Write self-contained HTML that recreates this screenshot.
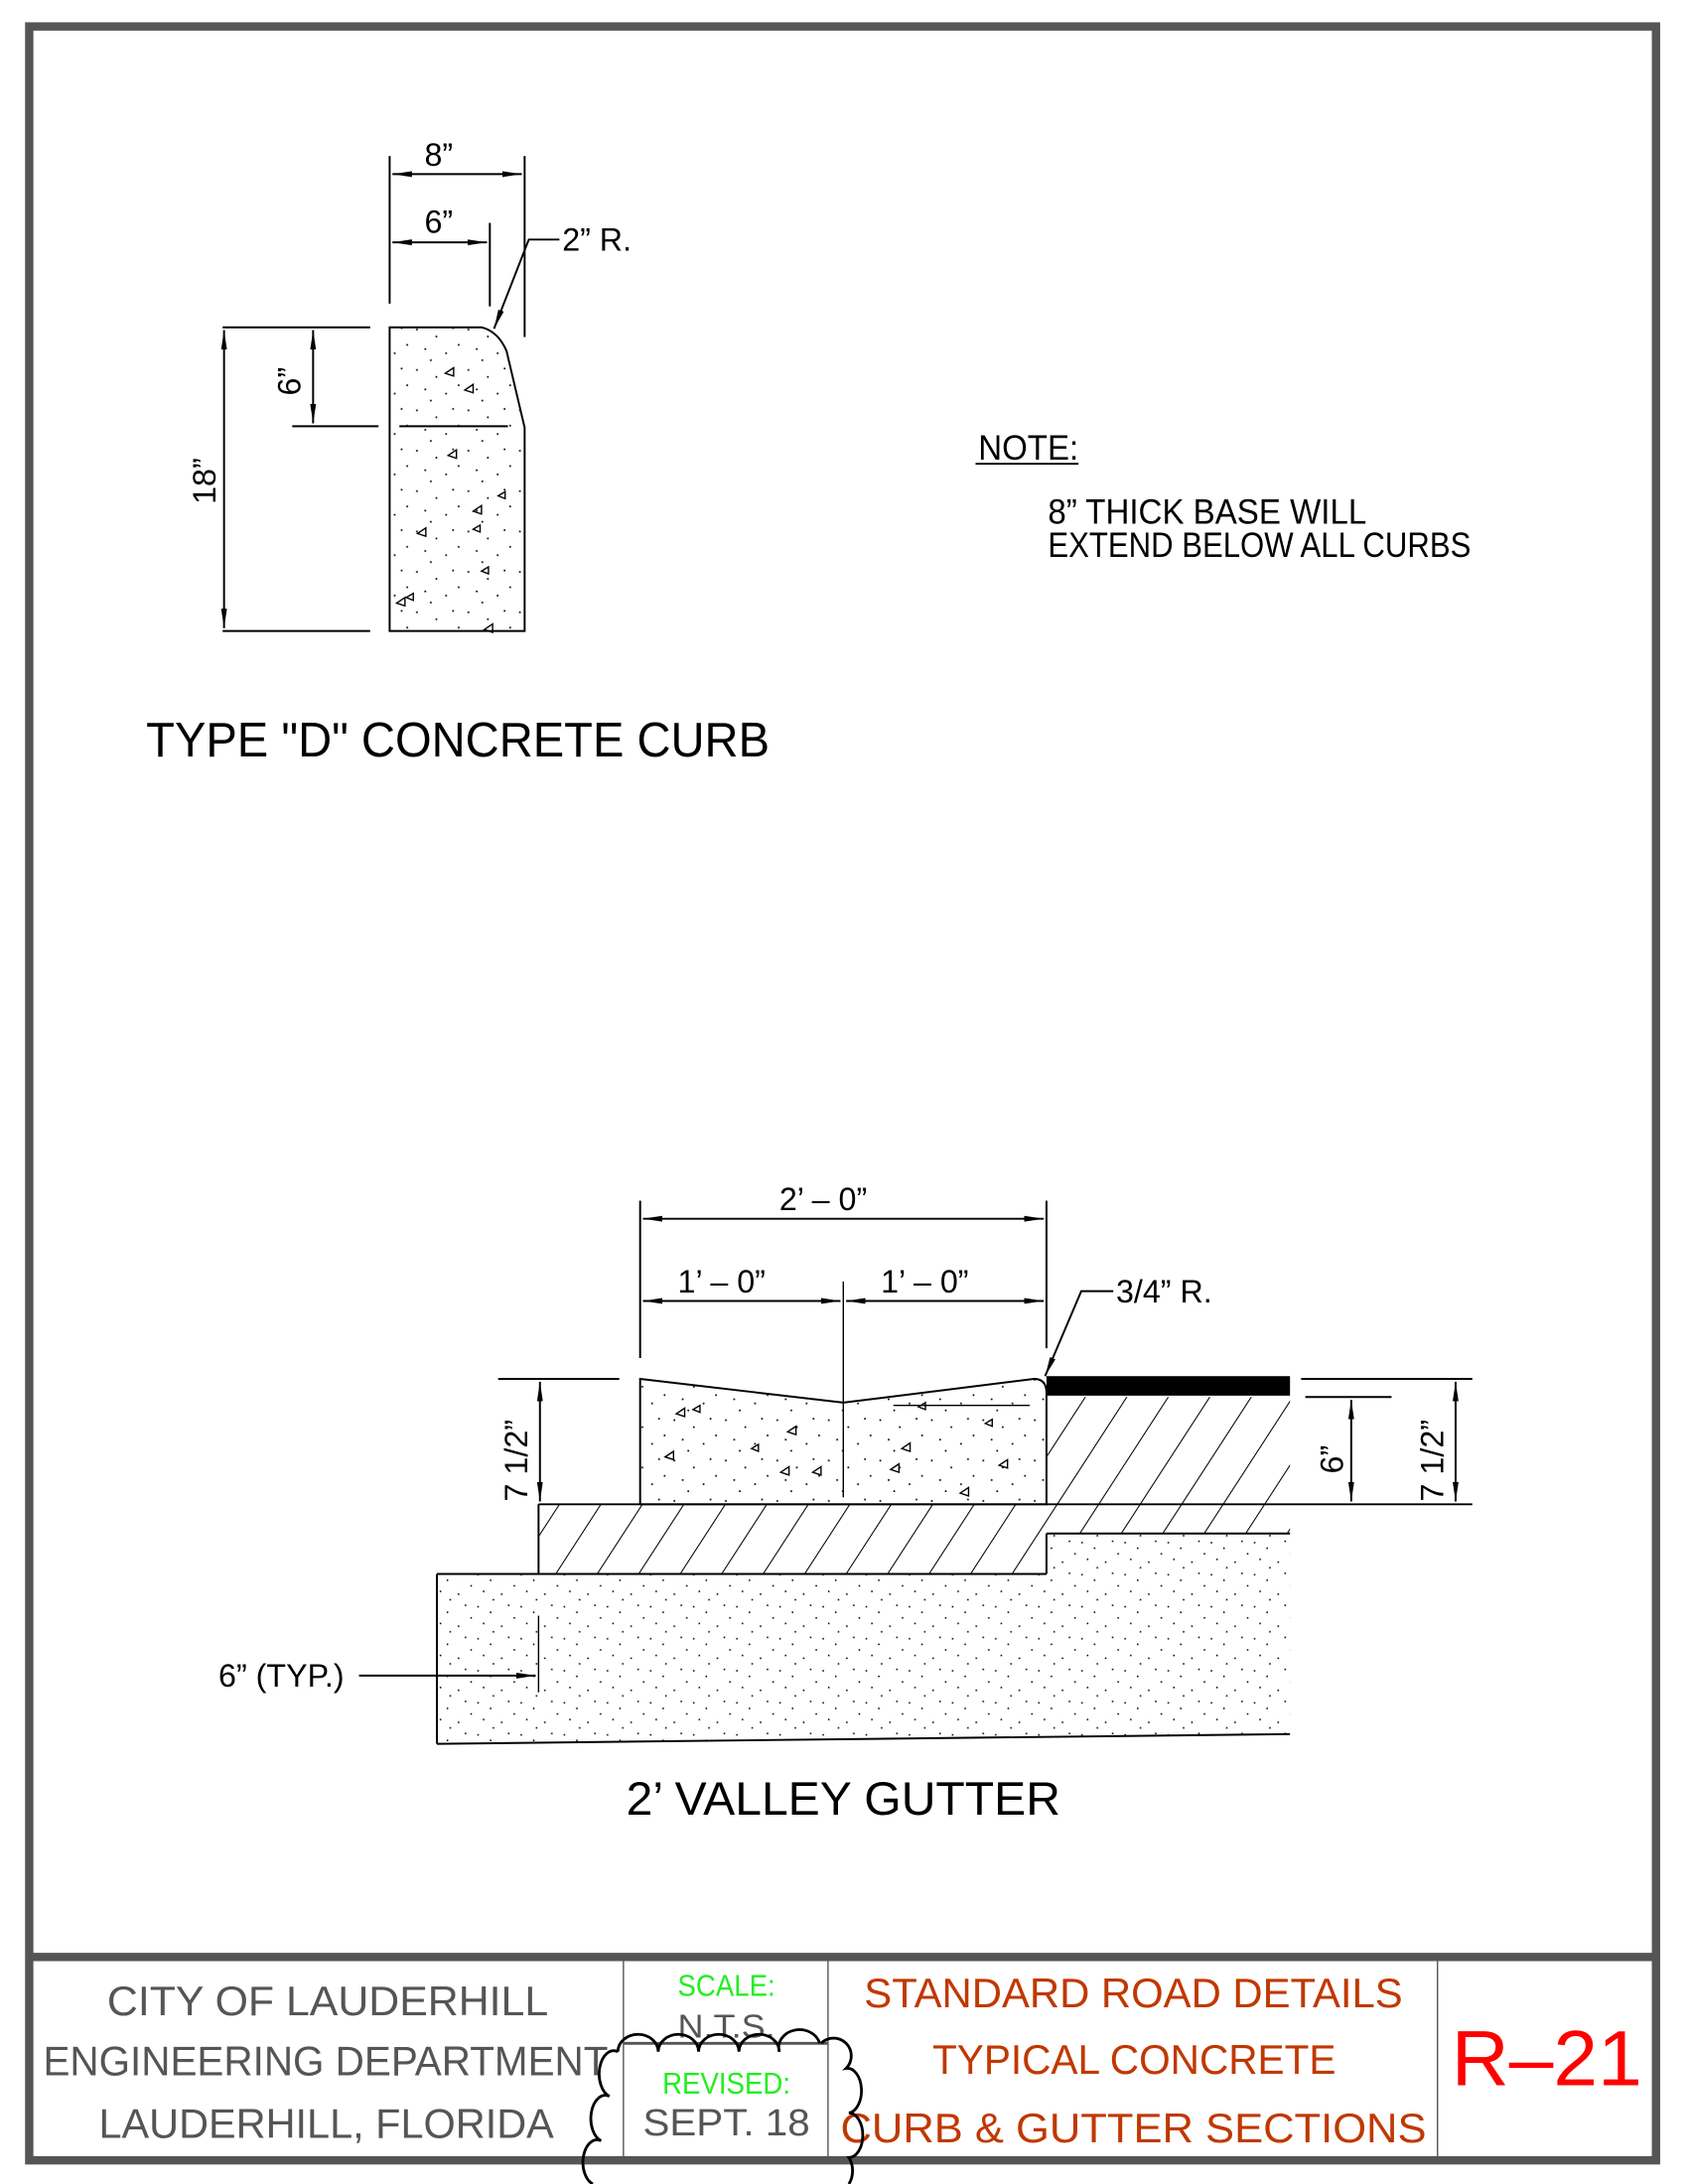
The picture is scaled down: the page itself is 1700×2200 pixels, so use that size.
<!DOCTYPE html>
<html><head><meta charset="utf-8"><style>
html,body{margin:0;padding:0;background:#fff;}
svg{display:block;}
text{font-family:"Liberation Sans",sans-serif;}
</style></head><body>
<svg width="1700" height="2200" viewBox="0 0 1213 1568" preserveAspectRatio="none" xmlns="http://www.w3.org/2000/svg">
<defs>
<marker id="a" viewBox="0 0 20 6" refX="20" refY="3" markerWidth="14" markerHeight="4.2" markerUnits="userSpaceOnUse" orient="auto-start-reverse"><path d="M0,0 L20,3 L0,6z" fill="#000"/></marker>
<pattern id="dots" width="37" height="29" patternUnits="userSpaceOnUse">
<rect x="3" y="4" width="1.2" height="1.2" fill="#000"/><rect x="17" y="9" width="1.2" height="1.2" fill="#000"/><rect x="29" y="3" width="1.2" height="1.2" fill="#000"/><rect x="9" y="18" width="1.2" height="1.2" fill="#000"/><rect x="24" y="21" width="1.2" height="1.2" fill="#000"/><rect x="33" y="15" width="1.2" height="1.2" fill="#000"/><rect x="13" y="26" width="1.2" height="1.2" fill="#000"/>
</pattern>
<pattern id="sdots" width="31" height="23" patternUnits="userSpaceOnUse">
<rect x="2" y="3" width="1.1" height="1.1" fill="#000"/><rect x="11" y="7" width="1.1" height="1.1" fill="#000"/><rect x="24" y="2" width="1.1" height="1.1" fill="#000"/><rect x="6" y="15" width="1.1" height="1.1" fill="#000"/><rect x="19" y="17" width="1.1" height="1.1" fill="#000"/><rect x="28" y="11" width="1.1" height="1.1" fill="#000"/><rect x="13" y="21" width="1.1" height="1.1" fill="#000"/>
</pattern>
<pattern id="hatch" width="25" height="25" patternUnits="userSpaceOnUse" patternTransform="rotate(33)">
<line x1="0" y1="0" x2="0" y2="25" stroke="#000" stroke-width="1.5"/>
</pattern>
</defs>

<!-- frame -->
<rect x="21" y="19" width="1169" height="1532" fill="none" stroke="#555" stroke-width="6"/>
<line x1="21" y1="1405" x2="1190" y2="1405" stroke="#555" stroke-width="6"/>
<line x1="448" y1="1408" x2="448" y2="1548" stroke="#555" stroke-width="1"/>
<line x1="595" y1="1408" x2="595" y2="1548" stroke="#555" stroke-width="1"/>
<line x1="1033" y1="1408" x2="1033" y2="1548" stroke="#555" stroke-width="1"/>
<line x1="448" y1="1467" x2="595" y2="1467" stroke="#555" stroke-width="2"/>

<!-- title block text -->
<g fill="#555" font-size="30">
<text x="77" y="1447" textLength="317" lengthAdjust="spacingAndGlyphs">CITY OF LAUDERHILL</text>
<text x="31" y="1490" textLength="406" lengthAdjust="spacingAndGlyphs">ENGINEERING DEPARTMENT</text>
<text x="71" y="1535" textLength="327" lengthAdjust="spacingAndGlyphs">LAUDERHILL, FLORIDA</text>
<text x="487" y="1463" font-size="24" textLength="70" lengthAdjust="spacingAndGlyphs">N.T.S.</text>
<text x="462" y="1533" font-size="27" textLength="120" lengthAdjust="spacingAndGlyphs">SEPT. 18</text>
</g>
<g fill="#22ee22" font-size="22">
<text x="487" y="1433" textLength="70" lengthAdjust="spacingAndGlyphs">SCALE:</text>
<text x="476" y="1503" textLength="92" lengthAdjust="spacingAndGlyphs">REVISED:</text>
</g>
<g fill="#c03800" font-size="30">
<text x="621" y="1441" textLength="387" lengthAdjust="spacingAndGlyphs">STANDARD ROAD DETAILS</text>
<text x="670" y="1489" textLength="290" lengthAdjust="spacingAndGlyphs">TYPICAL CONCRETE</text>
<text x="604" y="1538" textLength="421" lengthAdjust="spacingAndGlyphs">CURB &amp; GUTTER SECTIONS</text>
</g>
<text x="1043" y="1497" font-size="56" fill="#ff0000" textLength="137" lengthAdjust="spacingAndGlyphs">R–21</text>

<!-- revision cloud -->
<g fill="none" stroke="#000" stroke-width="2">
<path d="M444,1473 a14,12 0 0 1 29,0 a14,12 0 0 1 29,0 a14,12 0 0 1 29,0 a14,12 0 0 1 29,0 a14,12 0 0 1 29,-6"/>
<path d="M444,1473 a10,16 0 0 0 -6,32 a10,16 0 0 0 -6,32 a10,16 0 0 0 -6,31"/>
<path d="M590,1467 a10,10 0 0 1 18,18 a10,16 0 0 1 2,32 a10,16 0 0 1 0,32 a10,14 0 0 1 0,19"/>
</g>

<!-- TYPE D curb -->
<g stroke="#000" fill="none" stroke-width="1.4">
<path d="M280,235 L346,235 Q358,238 364,252 L377,307 L377,453 L280,453 Z" fill="url(#dots)"/>
<line x1="287" y1="306" x2="365" y2="306"/>
<line x1="280" y1="112" x2="280" y2="218"/>
<line x1="377" y1="112" x2="377" y2="242"/>
<line x1="352" y1="160" x2="352" y2="220"/>
<line x1="282" y1="125" x2="375" y2="125" marker-start="url(#a)" marker-end="url(#a)"/>
<line x1="282" y1="174" x2="350" y2="174" marker-start="url(#a)" marker-end="url(#a)"/>
<polyline points="402,172 380,172 355,236" marker-end="url(#a)"/>
<line x1="160" y1="235" x2="266" y2="235"/>
<line x1="160" y1="453" x2="266" y2="453"/>
<line x1="210" y1="306" x2="272" y2="306"/>
<line x1="161" y1="237" x2="161" y2="451" marker-start="url(#a)" marker-end="url(#a)"/>
<line x1="225" y1="237" x2="225" y2="304" marker-start="url(#a)" marker-end="url(#a)"/>
</g>
<g fill="none" stroke="#000" stroke-width="1">
<path d="M320,268 l6,-4 v6z M334,280 l6,-4 v6z M322,327 l6,-4 v6z M340,367 l6,-4 v6z M300,383 l6,-4 v6z M340,380 l5,-3 v5z M285,433 l6,-4 v6z M348,452 l6,-4 v6z M346,410 l5,-3 v5z M358,356 l5,-3 v5z M292,429 l5,-3 v5z"/>
</g>
<g font-size="23" fill="#000">
<text x="305" y="119">8”</text>
<text x="305" y="167">6”</text>
<text x="404" y="180">2”  R.</text>
<text transform="translate(155,362) rotate(-90)">18”</text>
<text transform="translate(216,284) rotate(-90)">6”</text>
</g>
<text x="105" y="543" font-size="35" textLength="448" lengthAdjust="spacingAndGlyphs">TYPE "D" CONCRETE CURB</text>

<!-- NOTE -->
<g font-size="25">
<text x="703" y="330" textLength="72" lengthAdjust="spacingAndGlyphs">NOTE:</text>
<text x="753" y="376" textLength="229" lengthAdjust="spacingAndGlyphs">8” THICK BASE WILL</text>
<text x="753" y="400" textLength="304" lengthAdjust="spacingAndGlyphs">EXTEND BELOW ALL CURBS</text>
</g>
<line x1="701" y1="333" x2="775" y2="333" stroke="#000" stroke-width="1.3"/>

<!-- Valley gutter -->
<path d="M314,1130 L752,1130 L752,1101 L927,1101 L927,1245 L314,1252 Z" fill="url(#sdots)" stroke="none"/>
<path d="M387,1080 L752,1080 L752,1003 L927,1003 L927,1101 L752,1101 L752,1130 L387,1130 Z" fill="url(#hatch)"/>
<path d="M460,990 L606,1007 L743,990 Q752,990 752,1000 L752,1080 L460,1080 Z" fill="#fff"/>
<path d="M460,990 L606,1007 L743,990 Q752,990 752,1000 L752,1080 L460,1080 Z" fill="url(#dots)" stroke="#000" stroke-width="1.4"/>
<rect x="752" y="988" width="175" height="14" fill="#000"/>
<g stroke="#000" fill="none" stroke-width="1.4">
<line x1="387" y1="1080" x2="1058" y2="1080"/>
<line x1="387" y1="1080" x2="387" y2="1130"/>
<line x1="314" y1="1130" x2="752" y2="1130"/>
<line x1="752" y1="1101" x2="927" y2="1101"/>
<line x1="752" y1="1101" x2="752" y2="1130"/>
<line x1="314" y1="1130" x2="314" y2="1252"/>
<line x1="314" y1="1252" x2="927" y2="1245"/>
<line x1="606" y1="920" x2="606" y2="1075" stroke-width="1"/>
<line x1="642" y1="1009" x2="740" y2="1009" stroke-width="1"/>
<line x1="460" y1="862" x2="460" y2="975"/>
<line x1="752" y1="862" x2="752" y2="968"/>
<line x1="462" y1="875" x2="750" y2="875" marker-start="url(#a)" marker-end="url(#a)"/>
<line x1="462" y1="934" x2="604" y2="934" marker-start="url(#a)" marker-end="url(#a)"/>
<line x1="608" y1="934" x2="750" y2="934" marker-start="url(#a)" marker-end="url(#a)"/>
<polyline points="800,927 777,927 751,988" marker-end="url(#a)"/>
<line x1="358" y1="990" x2="445" y2="990"/>
<line x1="388" y1="992" x2="388" y2="1078" marker-start="url(#a)" marker-end="url(#a)"/>
<line x1="935" y1="990" x2="1058" y2="990"/>
<line x1="938" y1="1003" x2="1000" y2="1003"/>
<line x1="971" y1="1005" x2="971" y2="1078" marker-start="url(#a)" marker-end="url(#a)"/>
<line x1="1046" y1="992" x2="1046" y2="1078" marker-start="url(#a)" marker-end="url(#a)"/>
<line x1="258" y1="1203" x2="385" y2="1203" marker-end="url(#a)"/>
<line x1="387" y1="1160" x2="387" y2="1215" stroke-width="1"/>
</g>
<g fill="none" stroke="#000" stroke-width="1">
<path d="M486,1015 l6,-4 v6z M498,1012 l5,-3 v5z M566,1028 l6,-4 v6z M540,1040 l5,-3 v5z M478,1046 l6,-4 v6z M561,1057 l6,-4 v6z M584,1057 l6,-4 v6z M648,1040 l6,-4 v6z M640,1055 l6,-4 v6z M718,1052 l6,-4 v6z M690,1072 l6,-4 v6z M660,1010 l5,-3 v5z M708,1022 l5,-3 v5z"/>
</g>
<g font-size="23" fill="#000">
<text x="560" y="869">2’  –  0”</text>
<text x="487" y="928">1’  –  0”</text>
<text x="633" y="928">1’  –  0”</text>
<text x="802" y="935">3/4”  R.</text>
<text x="157" y="1211">6”  (TYP.)</text>
<text transform="translate(379,1078) rotate(-90)">7  1/2”</text>
<text transform="translate(965,1058) rotate(-90)">6”</text>
<text transform="translate(1037,1078) rotate(-90)">7  1/2”</text>
</g>
<text x="450" y="1303" font-size="34" textLength="312" lengthAdjust="spacingAndGlyphs">2’ VALLEY GUTTER</text>
</svg>
</body></html>
